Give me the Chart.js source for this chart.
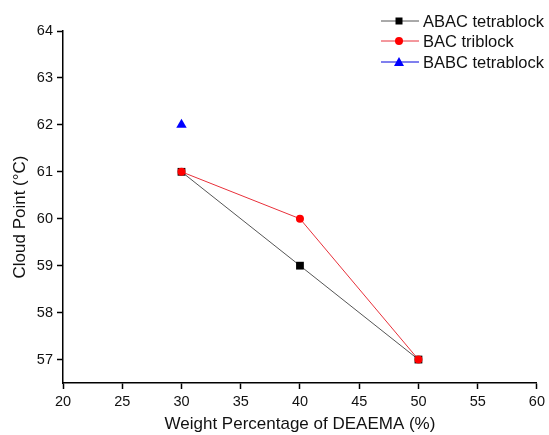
<!DOCTYPE html>
<html>
<head>
<meta charset="utf-8">
<script src="https://cdn.jsdelivr.net/npm/chart.js@4"></script>
<style>
  body { margin: 0; background: #fff; }
  #wrap { width: 549px; height: 435px; }
</style>
</head>
<body>
<div id="wrap"><canvas id="myChart" width="549" height="435"></canvas></div>
<script>
var weight = [30, 40, 50];
var abacCloud = [61, 59, 57];
var bacCloud = [61, 60, 57];
var babcWeight = [30];
var babcCloud = [62];
var yTicks = [57, 58, 59, 60, 61, 62, 63, 64];
var yTitle = 'Cloud Point (\u00B0C)';

function toPoints(xs, ys) {
    return xs.map(function (x, i) { return { x: x, y: ys[i] }; });
}

// legend in the top right corner and the y title, placed like the original figure
var extras = {
    id: 'extras',
    afterDraw: function (chart) {
        var c = chart.ctx;
        var rows = [21, 41, 62];
        c.save();
        c.font = '16.5px "Liberation Sans", Arial, sans-serif';
        c.textBaseline = 'middle';
        chart.data.datasets.forEach(function (ds, i) {
            var y = rows[i];
            c.strokeStyle = ds.borderColor;
            c.lineWidth = 1;
            c.beginPath();
            c.moveTo(381, y);
            c.lineTo(419, y);
            c.stroke();
            c.fillStyle = ds.pointBackgroundColor;
            c.beginPath();
            if (ds.pointStyle === 'rect') {
                c.rect(395.5, y - 3.5, 7, 7);
            } else if (ds.pointStyle === 'circle') {
                c.arc(399, y, 4, 0, Math.PI * 2);
            } else {
                c.moveTo(399, y - 5);
                c.lineTo(404, y + 4);
                c.lineTo(394, y + 4);
                c.closePath();
            }
            c.fill();
            c.fillStyle = '#111';
            c.fillText(ds.label, 423, y + 1);
        });

        c.translate(20, 217);
        c.rotate(-Math.PI / 2);
        c.textAlign = 'center';
        c.font = '17px "Liberation Sans", Arial, sans-serif';
        c.fillText(yTitle, 0, 0);
        c.restore();
    }
};

var ctx = document.getElementById('myChart').getContext('2d');
var chart = new Chart(ctx, {
    type: 'scatter',
    data: {
        datasets: [{
            label: 'ABAC tetrablock',
            data: toPoints(weight, abacCloud),
            showLine: true,
            borderColor: '#555555',
            borderWidth: 1,
            pointStyle: 'rect',
            pointRadius: 5.5,
            pointBackgroundColor: '#000000',
            pointBorderColor: '#000000',
            pointBorderWidth: 0,
            order: 3
        }, {
            label: 'BAC triblock',
            data: toPoints(weight, bacCloud),
            showLine: true,
            borderColor: '#e8303a',
            borderWidth: 1,
            pointStyle: 'circle',
            pointRadius: 4,
            pointBackgroundColor: '#ff0000',
            pointBorderColor: '#ff0000',
            pointBorderWidth: 0,
            order: 2
        }, {
            label: 'BABC tetrablock',
            data: toPoints(babcWeight, babcCloud),
            showLine: false,
            borderColor: '#0000dd',
            borderWidth: 1,
            pointStyle: 'triangle',
            pointRadius: 6,
            pointBackgroundColor: '#0000ff',
            pointBorderColor: '#0000ff',
            pointBorderWidth: 0,
            order: 1
        }]
    },
    options: {
        responsive: false,
        animation: false,
        layout: { padding: { top: 31, right: 12, left: 0, bottom: 0 } },
        plugins: {
            legend: { display: false },
            tooltip: { enabled: false }
        },
        scales: {
            x: {
                type: 'linear',
                min: 20,
                max: 60,
                ticks: { stepSize: 5, color: '#111', padding: 4, font: { family: '"Liberation Sans", Arial', size: 14.5 } },
                grid: { drawOnChartArea: false, tickLength: 6, color: '#000', tickWidth: 1.5 },
                border: { color: '#000', width: 1.5 },
                title: { display: true, text: 'Weight Percentage of DEAEMA (%)', color: '#111', padding: { top: 4, bottom: 0 }, font: { family: '"Liberation Sans", Arial', size: 17 } },
                afterFit: function (s) { s.height = 52; }
            },
            y: {
                min: 56.5,
                max: 64,
                afterBuildTicks: function (s) {
                    s.ticks = yTicks.map(function (v) { return { value: v }; });
                },
                ticks: { color: '#111', padding: 4, font: { family: '"Liberation Sans", Arial', size: 14.5 } },
                grid: { drawOnChartArea: false, tickLength: 6, color: '#000', tickWidth: 1.5 },
                border: { color: '#000', width: 1.5 },
                afterFit: function (s) { s.width = 63; }
            }
        }
    },
    plugins: [extras]
});
</script>
</body>
</html>
